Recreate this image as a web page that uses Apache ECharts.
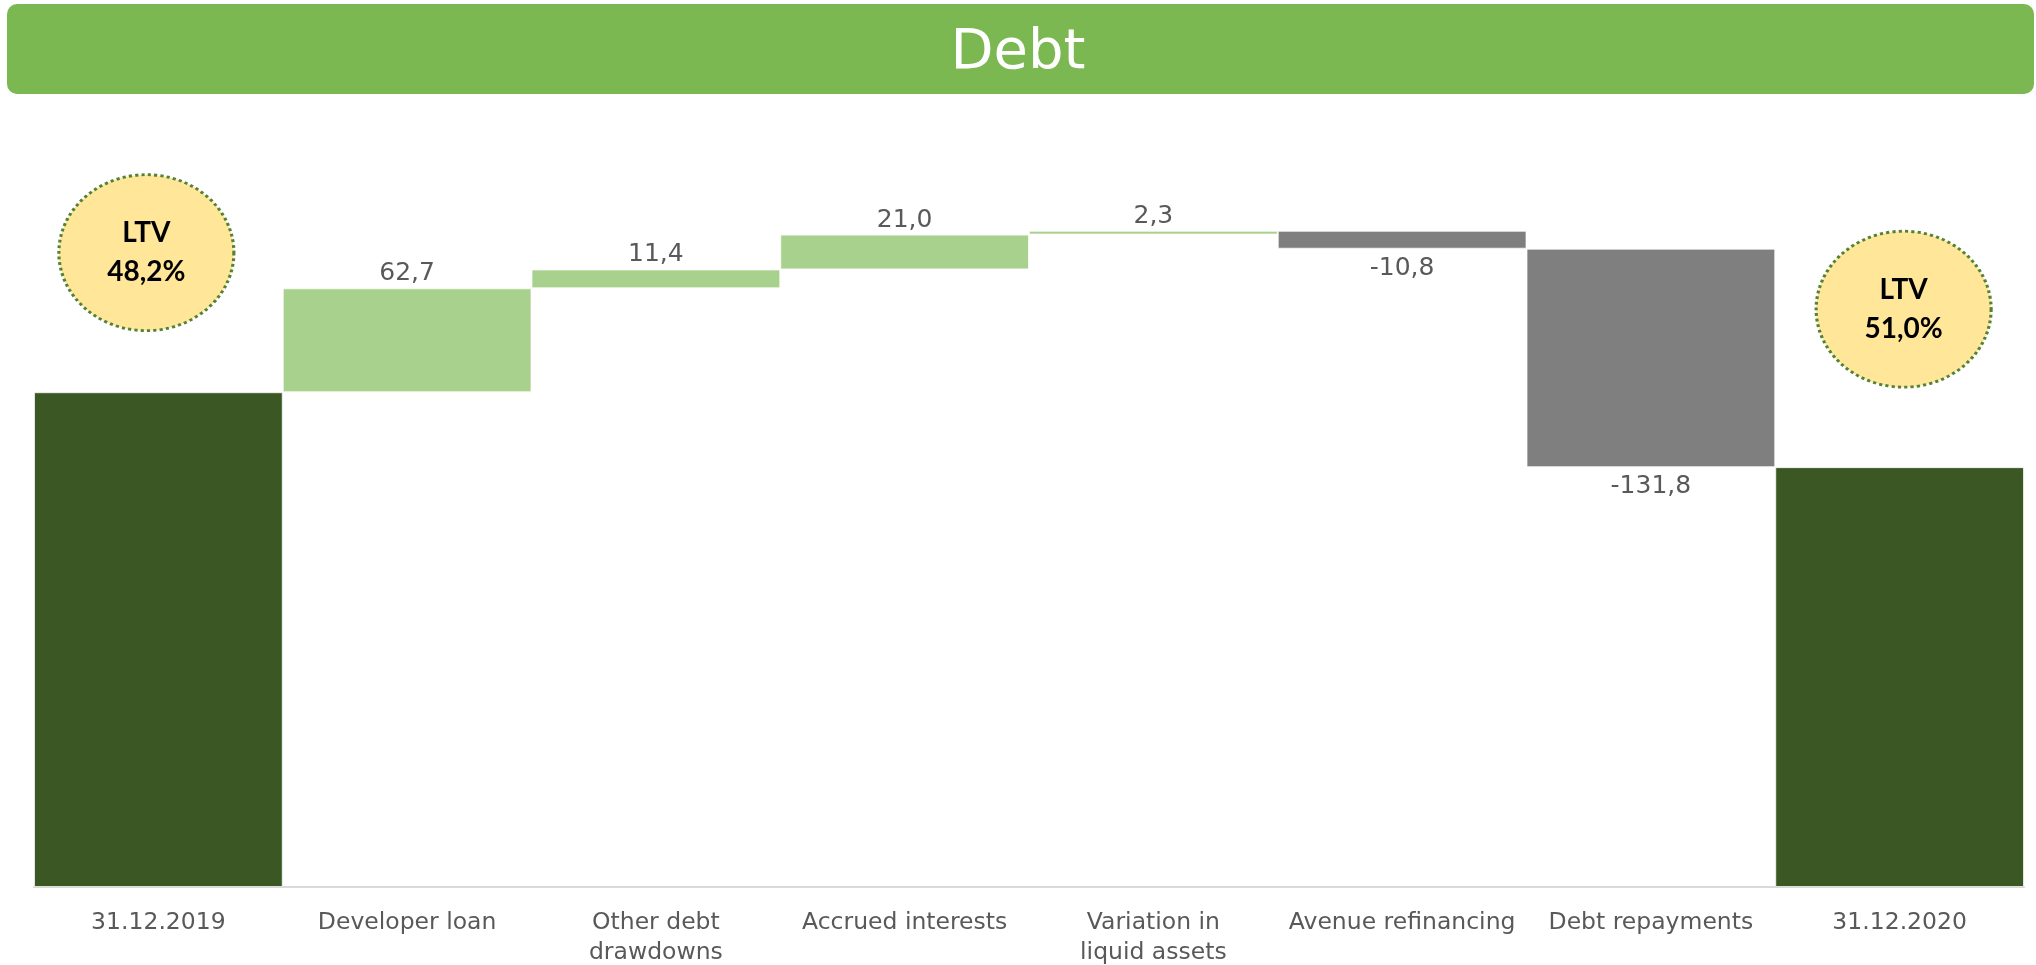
<!DOCTYPE html>
<html>
<head>
<meta charset="utf-8">
<script src="https://cdn.jsdelivr.net/npm/echarts@6/dist/echarts.min.js"></script>
<style>
html,body{margin:0;padding:0;background:#fff;}
#chart{width:2036px;height:965px;}
</style>
</head>
<body>
<div id="chart"></div>
<script>
// ---- data ----
const categories = ['31.12.2019', 'Developer loan', 'Other debt\ndrawdowns', 'Accrued interests',
  'Variation in\nliquid assets', 'Avenue refinancing', 'Debt repayments', '31.12.2020'];
const startValue = 298.5;
const changes = [62.7, 11.4, 21.0, 2.3, -10.8, -131.8];
const ltvLabels = ['48,2%', '51,0%'];
const titleText = 'Debt';

// ---- styles ----
const C_TOTAL = '#3A5724', C_UP = '#A9D18E', C_DOWN = '#7F7F7F';
const TXT = '#595959';
const FONT = "'DejaVu Sans', Verdana, sans-serif";

const fmt = v => v.toFixed(1).replace('.', ',');

// build waterfall stacks
const baseData = [0];
const visData = [{ value: startValue, itemStyle: { color: C_TOTAL }, label: { show: false } }];
let cum = startValue;
changes.forEach(c => {
  if (c >= 0) {
    baseData.push(cum);
    visData.push({ value: c, itemStyle: { color: C_UP },
      label: { show: true, position: 'top', distance: 2, formatter: fmt(c) } });
    cum += c;
  } else {
    cum += c;
    baseData.push(cum);
    visData.push({ value: -c, itemStyle: { color: C_DOWN },
      label: { show: true, position: 'bottom', distance: 7, formatter: '-' + fmt(-c) } });
  }
});
baseData.push(0);
visData.push({ value: cum, itemStyle: { color: C_TOTAL }, label: { show: false } });

// LTV bubbles (layout: category index, y-position in axis units, pixel offset)
const bubbleLayout = [
  { cat: 0, y: 382.7, dx: -12 },
  { cat: 7, y: 348.6, dx: 4 }
];
const bubbleData = bubbleLayout.map((b, i) => ({
  value: [b.cat, b.y],
  symbolOffset: [b.dx, 0],
  label: { formatter: '{a|LTV}\n{b|' + ltvLabels[i] + '}' }
}));

const chart = echarts.init(document.getElementById('chart'), null, { renderer: 'canvas' });
chart.setOption({
  backgroundColor: '#ffffff',
  animation: false,
  graphic: [{
    type: 'rect', z: 0,
    shape: { x: 7, y: 4, width: 2027, height: 90, r: 10 },
    style: { fill: '#7BB852' }
  }],
  title: {
    text: titleText, left: 'center', top: 20,
    textStyle: { color: '#ffffff', fontSize: 56, fontWeight: 'normal', fontFamily: FONT }
  },
  grid: { left: 34, right: 12, top: 224, bottom: 78, containLabel: false, outerBoundsMode: 'none' },
  xAxis: {
    type: 'category', data: categories,
    axisLine: { show: true, lineStyle: { color: '#D9D9D9', width: 2 } },
    axisTick: { show: false },
    axisLabel: { color: TXT, fontSize: 23.5, fontFamily: FONT, margin: 21, lineHeight: 30, interval: 0 },
    splitLine: { show: false }
  },
  yAxis: { type: 'value', min: 0, max: 400, show: false, splitLine: { show: false } },
  series: [
    {
      type: 'bar', stack: 'w', data: baseData, barCategoryGap: '0%',
      itemStyle: { color: 'rgba(0,0,0,0)' }, silent: true
    },
    {
      type: 'bar', stack: 'w', data: visData, barCategoryGap: '0%',
      itemStyle: { borderColor: 'rgba(255,255,255,0.7)', borderWidth: 1 },
      label: { color: TXT, fontSize: 25, fontFamily: FONT }
    },
    {
      type: 'scatter', data: bubbleData, symbol: 'circle', symbolSize: [175, 156], z: 5,
      itemStyle: { color: '#FFE699', borderColor: '#548235', borderWidth: 3, borderType: [3, 3], opacity: 1 },
      label: {
        show: true, position: 'inside',
        rich: {
          a: { fontFamily: "Lato, 'Open Sans', sans-serif", fontWeight: 'bold', fontSize: 28, color: '#000', lineHeight: 39 },
          b: { fontFamily: "Lato, 'Open Sans', sans-serif", fontWeight: 'bold', fontSize: 28, color: '#000', lineHeight: 39 }
        }
      }
    }
  ]
});
</script>
</body>
</html>
